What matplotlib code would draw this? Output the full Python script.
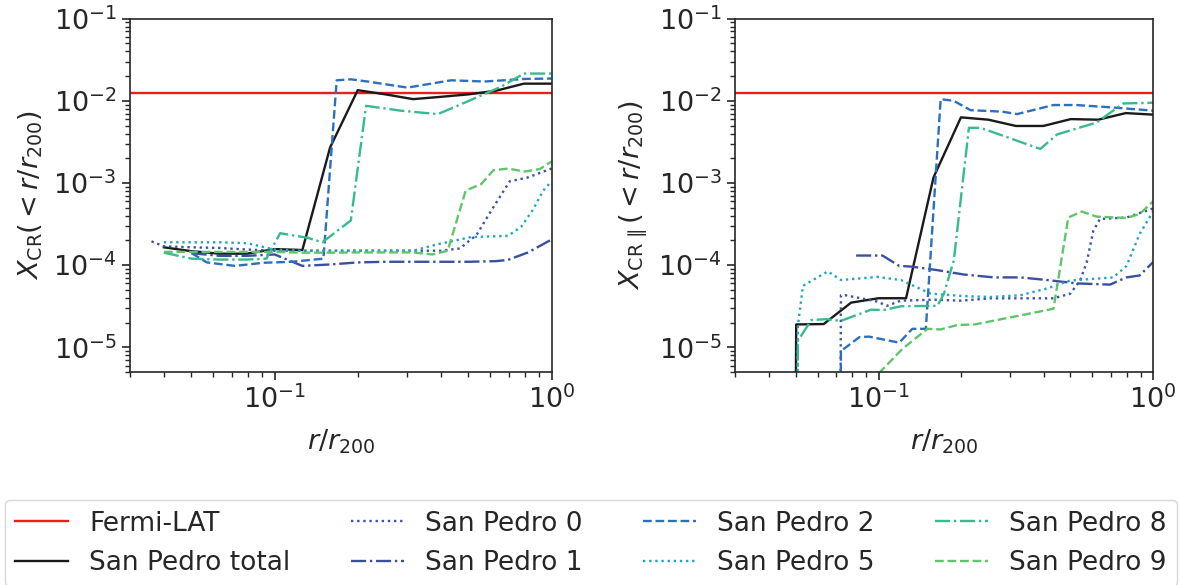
import matplotlib
matplotlib.use('Agg')
import matplotlib.pyplot as plt

# ---- data (r/r200, X_CR) ----
fermi = 0.0125

# left panel: X_CR(<r/r200)
total_l_r = [0.0398, 0.0501, 0.0631, 0.0794, 0.1, 0.1259, 0.1585, 0.1995, 0.2512, 0.3162, 0.3981, 0.5012, 0.631, 0.7943, 1.0]
total_l = [1.65e-4, 1.48e-4, 1.38e-4, 1.38e-4, 1.57e-4, 1.53e-4, 2.7e-3, 1.35e-2, 1.2e-2, 1.05e-2, 1.12e-2, 1.2e-2, 1.33e-2, 1.62e-2, 1.62e-2]

sp0_l_r = [0.0359, 0.0398, 0.0501, 0.0631, 0.0794, 0.1, 0.1259, 0.1585, 0.1995, 0.2512, 0.3162, 0.3981, 0.4677, 0.5058, 0.5346, 0.6053, 0.7063, 0.8222, 1.0]
sp0_l = [1.95e-4, 1.7e-4, 1.65e-4, 1.62e-4, 1.55e-4, 1.5e-4, 1.5e-4, 1.5e-4, 1.5e-4, 1.5e-4, 1.5e-4, 1.5e-4, 1.6e-4, 2.0e-4, 2.3e-4, 4.6e-4, 1.05e-3, 1.17e-3, 1.5e-3]

sp1_l_r = [0.0501, 0.0631, 0.0794, 0.1, 0.1259, 0.1585, 0.1995, 0.2512, 0.3162, 0.3981, 0.5012, 0.631, 0.6966, 0.8222, 1.0]
sp1_l = [1.4e-4, 1.3e-4, 1.3e-4, 1.35e-4, 9.8e-5, 1.02e-4, 1.08e-4, 1.1e-4, 1.1e-4, 1.1e-4, 1.1e-4, 1.12e-4, 1.16e-4, 1.43e-4, 2.05e-4]

sp2_l_r = [0.0501, 0.0569, 0.0719, 0.0912, 0.1156, 0.15, 0.1675, 0.1884, 0.2163, 0.302, 0.4335, 0.5728, 0.8, 1.0]
sp2_l = [1.4e-4, 1.08e-4, 9.8e-5, 1.07e-4, 1.1e-4, 1.2e-4, 1.78e-2, 1.83e-2, 1.72e-2, 1.45e-2, 1.78e-2, 1.72e-2, 1.85e-2, 1.87e-2]

sp5_l_r = [0.0398, 0.0501, 0.0631, 0.0794, 0.1, 0.1259, 0.1585, 0.1995, 0.2512, 0.3162, 0.389, 0.5128, 0.6966, 0.778, 0.859, 0.9333, 1.0]
sp5_l = [1.9e-4, 1.9e-4, 1.9e-4, 1.85e-4, 1.55e-4, 1.5e-4, 1.5e-4, 1.5e-4, 1.5e-4, 1.5e-4, 1.8e-4, 2.2e-4, 2.27e-4, 2.95e-4, 4.8e-4, 8.1e-4, 1.05e-3]

sp8_l_r = [0.0398, 0.0501, 0.0631, 0.0794, 0.0933, 0.1047, 0.1318, 0.1486, 0.1884, 0.2138, 0.2851, 0.3882, 0.4571, 0.5623, 0.6607, 0.7943, 1.0]
sp8_l = [1.42e-4, 1.2e-4, 1.17e-4, 1.17e-4, 1.2e-4, 2.45e-4, 2.15e-4, 1.9e-4, 3.5e-4, 8.7e-3, 7.6e-3, 6.9e-3, 8.7e-3, 1.18e-2, 1.5e-2, 2.15e-2, 2.15e-2]

sp9_l_r = [0.0398, 0.0501, 0.0631, 0.0794, 0.1, 0.1259, 0.1585, 0.1995, 0.2512, 0.3162, 0.3715, 0.4217, 0.4898, 0.557, 0.6166, 0.6966, 0.8, 0.9078, 1.0]
sp9_l = [1.45e-4, 1.45e-4, 1.45e-4, 1.45e-4, 1.45e-4, 1.42e-4, 1.42e-4, 1.43e-4, 1.43e-4, 1.43e-4, 1.35e-4, 1.5e-4, 8.1e-4, 9.7e-4, 1.43e-3, 1.5e-3, 1.38e-3, 1.48e-3, 1.83e-3]

# right panel: X_CR,par(<r/r200)
total_r_r = [0.0495, 0.0501, 0.0631, 0.0794, 0.1, 0.1259, 0.1585, 0.1995, 0.2512, 0.3162, 0.3981, 0.5012, 0.631, 0.7943, 1.0]
total_r = [1e-8, 1.9e-5, 1.92e-5, 3.5e-5, 3.96e-5, 3.96e-5, 1.17e-3, 6.3e-3, 5.9e-3, 4.95e-3, 4.95e-3, 6.0e-3, 5.9e-3, 7.1e-3, 6.8e-3]

sp0_r_r = [0.0722, 0.0729, 0.0759, 0.0991, 0.1072, 0.1205, 0.1585, 0.1995, 0.2559, 0.3192, 0.4335, 0.4989, 0.542, 0.5728, 0.6053, 0.6397, 0.8, 1.0]
sp0_r = [1e-8, 4.3e-5, 4.3e-5, 3.6e-5, 3.2e-5, 3.7e-5, 3.8e-5, 3.7e-5, 3.95e-5, 3.95e-5, 3.95e-5, 4.5e-5, 6.5e-5, 1.08e-4, 2.6e-4, 3.65e-4, 3.8e-4, 4.9e-4]

sp1_r_r = [0.0828, 0.1033, 0.1189, 0.1318, 0.1637, 0.2042, 0.263, 0.3281, 0.4102, 0.5272, 0.6966, 0.8, 0.8933, 1.0]
sp1_r = [1.31e-4, 1.31e-4, 9.8e-5, 9.6e-5, 8.7e-5, 7.7e-5, 7.1e-5, 7.1e-5, 6.6e-5, 6.0e-5, 5.8e-5, 7.1e-5, 7.5e-5, 1.09e-4]

sp2_r_r = [0.0722, 0.0729, 0.0851, 0.0923, 0.1189, 0.1327, 0.1486, 0.1683, 0.1879, 0.2163, 0.2818, 0.3192, 0.4335, 0.5248, 0.7161, 1.0]
sp2_r = [1e-8, 9e-6, 1.33e-5, 1.35e-5, 1.14e-5, 1.68e-5, 1.68e-5, 1.05e-2, 1.0e-2, 7.7e-3, 7.4e-3, 6.9e-3, 8.9e-3, 8.9e-3, 8.3e-3, 7.6e-3]

sp5_r_r = [0.0502, 0.0508, 0.053, 0.0653, 0.0729, 0.0991, 0.1205, 0.1549, 0.2042, 0.2559, 0.3281, 0.4102, 0.4989, 0.7161, 0.8, 0.8933, 1.0]
sp5_r = [1e-8, 1.8e-5, 5.6e-5, 8.4e-5, 6.6e-5, 7.2e-5, 6.6e-5, 4.5e-5, 4.2e-5, 4.1e-5, 4.3e-5, 5.2e-5, 6.5e-5, 7.1e-5, 9.8e-5, 2.4e-4, 4.5e-4]

sp8_r_r = [0.0502, 0.0508, 0.0569, 0.0646, 0.0729, 0.0938, 0.1047, 0.1205, 0.1637, 0.173, 0.1879, 0.2133, 0.2351, 0.3882, 0.4467, 0.6223, 0.7781, 1.0]
sp8_r = [1e-8, 1.2e-5, 2.15e-5, 2.2e-5, 2.1e-5, 2.87e-5, 2.85e-5, 3.16e-5, 3.2e-5, 4.5e-5, 1.14e-4, 4.7e-3, 4.7e-3, 2.6e-3, 3.9e-3, 5.45e-3, 9.3e-3, 9.5e-3]

sp9_r_r = [0.1, 0.1222, 0.1507, 0.1683, 0.1936, 0.2239, 0.3192, 0.4335, 0.4909, 0.5495, 0.6223, 0.8, 0.8933, 1.0]
sp9_r = [4.8e-6, 9.6e-6, 1.68e-5, 1.65e-5, 1.87e-5, 1.9e-5, 2.4e-5, 2.95e-5, 3.8e-4, 4.5e-4, 3.9e-4, 3.75e-4, 4.2e-4, 6.0e-4]

labels = ['San Pedro 0', 'San Pedro 1', 'San Pedro 2', 'San Pedro 5', 'San Pedro 8', 'San Pedro 9']
colors = ['#3b52a6', '#3a4ea2', '#2c6fc0', '#21a5c3', '#37ba90', '#5fc56a']
styles = [(0, (1, 1.6)), '-.', '--', (0, (1, 1.6)), '-.', '--']

plt.rcParams['font.family'] = 'DejaVu Sans'
plt.rcParams['font.size'] = 19.5
plt.rcParams['text.color'] = '#262626'
plt.rcParams['axes.labelcolor'] = '#262626'
plt.rcParams['xtick.color'] = '#262626'
plt.rcParams['ytick.color'] = '#262626'

fig = plt.figure(figsize=(11.81, 5.85), dpi=100)
ax1 = fig.add_axes([0.110, 0.364, 0.357, 0.604])
ax2 = fig.add_axes([0.6224, 0.364, 0.354, 0.604])

left = [(sp0_l_r, sp0_l), (sp1_l_r, sp1_l), (sp2_l_r, sp2_l), (sp5_l_r, sp5_l), (sp8_l_r, sp8_l), (sp9_l_r, sp9_l)]
right = [(sp0_r_r, sp0_r), (sp1_r_r, sp1_r), (sp2_r_r, sp2_r), (sp5_r_r, sp5_r), (sp8_r_r, sp8_r), (sp9_r_r, sp9_r)]

for ax, series, tot_r, tot in [(ax1, left, total_l_r, total_l), (ax2, right, total_r_r, total_r)]:
    ax.axhline(fermi, color='#ee1c1c', lw=1.7, label='Fermi-LAT')
    ax.plot(tot_r, tot, color='#1a1a1a', lw=1.7, label='San Pedro total')
    for (r, y), lab, c, ls in zip(series, labels, colors, styles):
        ax.plot(r, y, color=c, ls=ls, lw=1.7, label=lab)
    ax.set_xscale('log')
    ax.set_yscale('log')
    ax.set_xlim(0.03, 1)
    ax.set_ylim(5e-6, 1e-1)
    ax.set_yticks([1e-5, 1e-4, 1e-3, 1e-2, 1e-1])
    ax.set_xlabel(r'$r/r_{200}$', labelpad=10)
    for s in ax.spines.values():
        s.set_linewidth(1.2)
        s.set_color('#262626')
    ax.tick_params(which='major', length=6, width=1.2)
    ax.tick_params(which='minor', length=3.5, width=1.0)

ax1.set_ylabel(r'$X_{\rm CR}(<r/r_{200})$', labelpad=6)
ax2.set_ylabel(r'$X_{\rm CR\,\parallel}(<r/r_{200})$', labelpad=6)

handles, labs = ax1.get_legend_handles_labels()
fig.legend(handles, labs, loc='upper left', bbox_to_anchor=(0.004, 0.145, 0.9926, 0),
           mode='expand', borderaxespad=0, ncol=4, fontsize=19, frameon=True, edgecolor='0.8')

fig.savefig('out.png', dpi=100)
